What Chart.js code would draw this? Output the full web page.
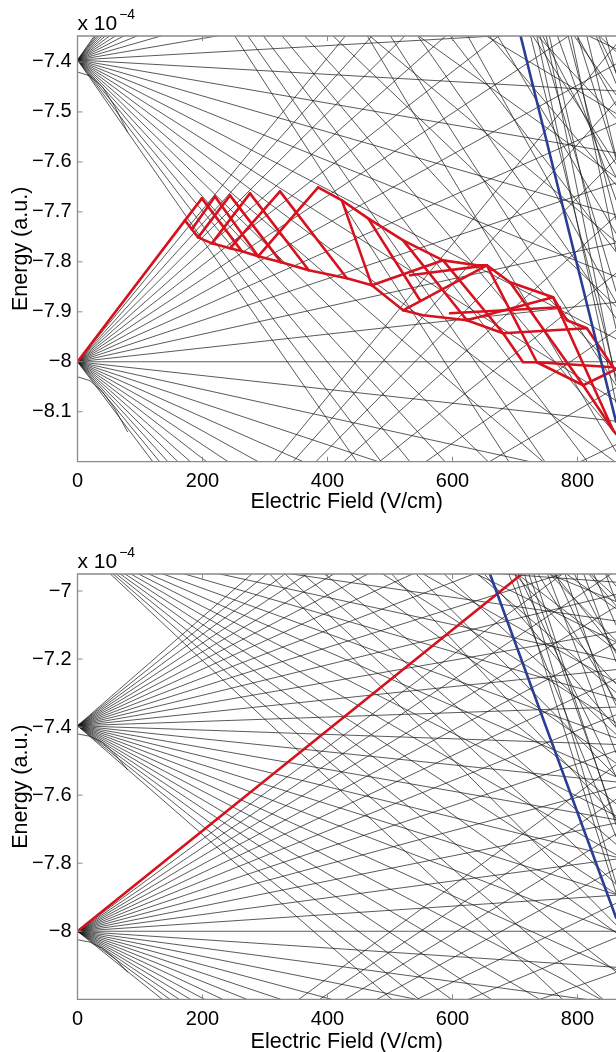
<!DOCTYPE html>
<html><head><meta charset="utf-8">
<script src="https://cdn.jsdelivr.net/npm/chart.js@4/dist/chart.umd.min.js"></script>
<style>
html,body{margin:0;padding:0;background:#fff;overflow:hidden;width:616px;height:1052px}
canvas{position:absolute;left:0}
#c1{top:0}
#c2{top:520px}
</style></head><body>
<canvas id="c1" width="616" height="520"></canvas>
<canvas id="c2" width="616" height="532"></canvas>
<script>
// ---------- axes ----------
const xTicks = [0, 200, 400, 600, 800];
const xMax = 861.6;
const topYTicks = [-7.4, -7.5, -7.6, -7.7, -7.8, -7.9, -8, -8.1];
const topYMin = -8.2, topYMax = -7.348;
const botYTicks = [-7, -7.2, -7.4, -7.6, -7.8, -8];
const botYMin = -8.2, botYMax = -6.95;

// ---------- top panel: Stark fans (energy at F=0, energies at right edge) ----------
const topN24Zero = -8.681;
const topN24Ends = [-7.365, -7.479, -7.594, -7.708, -7.823, -7.937, -8.052, -8.166];
const topN25Zero = -8.0;
const topN25Ends = [-6.689, -6.808, -6.927, -7.046, -7.166, -7.285, -7.404, -7.523, -7.642, -7.762, -7.881, -8.0,
  -8.119, -8.238, -8.358, -8.477, -8.596, -8.715, -8.834, -8.954, -9.073, -9.192, -9.311, -9.430];
const topN26Zero = -7.396;
const topN26Ends = [-5.846, -5.970, -6.094, -6.218, -6.342, -6.466, -6.590, -6.714, -6.838, -6.962, -7.086, -7.210, -7.334,
  -7.458, -7.582, -7.706, -7.830, -7.954, -8.078, -8.202, -8.326, -8.450, -8.574, -8.698, -8.822, -8.946];
const topN27Zero = -6.859;
const topN27Ends = [-7.374, -7.503, -7.631, -7.760, -7.889, -8.018, -8.146, -8.275, -8.404, -8.533];
const topN28Zero = -6.378;
const topN28Ends = [-7.379, -7.513, -7.646, -7.780, -7.913, -8.047, -8.180];
const topN29Zero = -5.945;
const topN29Ends = [-7.466, -7.604, -7.743, -7.881];
const topN30Zero = -5.556;
const topN30Ends = [-7.487, -7.630];
const topN31Zero = -5.203;
const topN31Ends = [-7.420];
// steep states entering through the top edge: field where they enter, energy at right edge
const topSteepStart = [725, 740, 755, 768, 785, 800, 815, 830, 845, 735, 750, 790];
const topSteepEnds = [-8.031, -7.859, -7.934, -7.676, -7.716, -7.594, -7.590, -7.443, -7.423, -8.082, -8.040, -7.778];
// low-l states (quadratic shift)
const topLowL1 = [[0, -7.42], [20, -7.428], [40, -7.45], [60, -7.49], [80, -7.54]];
const topLowL2 = [[0, -8.03], [20, -8.038], [40, -8.06], [60, -8.095], [80, -8.14]];
// blue state
const topBlue = [[709, -7.348], [861.6, -8.12]];
// red network (diabatic paths)
const topRedPaths = [
  [[0, -8.0], [172, -7.717]],
  // rising branches
  [[172, -7.717], [199, -7.673]],
  [[183, -7.735], [220, -7.669]],
  [[193, -7.751], [244, -7.667]],
  [[215, -7.763], [276, -7.663]],
  [[244, -7.773], [324, -7.659]],
  [[289, -7.789], [385, -7.651]],
  // falling branches
  [[199, -7.673], [263, -7.779]],
  [[220, -7.669], [289, -7.789]],
  [[244, -7.667], [326, -7.801]],
  [[276, -7.663], [370, -7.817]],
  [[324, -7.659], [431, -7.833]],
  // lower edge
  [[172, -7.717], [193, -7.751], [215, -7.763], [244, -7.773], [263, -7.779], [289, -7.789], [326, -7.801], [370, -7.817],
   [431, -7.833], [471, -7.847], [521, -7.897], [553, -7.907], [623, -7.917], [681, -7.943], [713, -8.001], [735, -8.001],
   [809, -8.047], [857, -8.137], [862, -8.145]],
  // upper edge
  [[385, -7.651], [423, -7.677], [465, -7.713], [521, -7.757], [585, -7.797], [639, -7.807], [655, -7.807], [692, -7.841],
   [761, -7.871], [783, -7.917], [815, -7.933], [857, -8.011], [862, -8.015]],
  [[423, -7.677], [471, -7.847]],
  [[465, -7.713], [548, -7.877]],
  [[521, -7.757], [623, -7.917]],
  [[585, -7.797], [681, -7.943]],
  [[655, -7.807], [735, -8.001]],
  [[692, -7.841], [809, -8.047]],
  [[761, -7.871], [857, -8.137]],
  [[471, -7.847], [585, -7.797]],
  [[521, -7.897], [655, -7.807]],
  [[623, -7.917], [761, -7.871]],
  [[681, -7.943], [815, -7.933]],
  [[735, -8.001], [857, -8.011]],
  [[809, -8.047], [862, -8.015]],
  [[532, -7.827], [655, -7.807]],
  [[596, -7.903], [772, -7.891]]
];

// ---------- bottom panel ----------
const botN24Zero = -8.681;
const botN24Ends = [-7.511, -7.612, -7.714, -7.816, -7.918, -8.019, -8.121];
const botN25Zero = -8.0;
const botN25Ends = [-6.834, -6.940, -7.046, -7.152, -7.258, -7.364, -7.470, -7.576, -7.682, -7.788, -7.894, -8.0,
  -8.106, -8.212, -8.318, -8.424, -8.530, -8.636, -8.742, -8.848, -8.954, -9.060, -9.166, -9.272];
const botN26Zero = -7.396;
const botN26Ends = [-6.018, -6.128, -6.238, -6.349, -6.459, -6.569, -6.679, -6.790, -6.900, -7.010, -7.120, -7.231, -7.341,
  -7.451, -7.561, -7.672, -7.782, -7.892, -8.002, -8.113, -8.223, -8.333, -8.443, -8.554, -8.664, -8.774];
const botN27Zero = -6.859;
const botN27Ends = [-6.974, -7.088, -7.203, -7.317, -7.432, -7.546, -7.661, -7.775, -7.890, -8.004, -8.119, -8.233, -8.348];
const botN28Zero = -6.378;
const botN28Ends = [-7.031, -7.150, -7.269, -7.387, -7.506, -7.625, -7.744, -7.862, -7.981];
const botN29Zero = -5.945;
const botN29Ends = [-7.052, -7.175, -7.298, -7.421, -7.544, -7.667];
const botN30Zero = -5.556;
const botN30Ends = [-7.019, -7.146, -7.273, -7.401];
const botN31Zero = -5.203;
const botN31Ends = [-7.043, -7.175];
const botN32Zero = -4.883;
const botN32Ends = [-6.986];
const botSteepStart = [690, 705, 722, 737, 752, 765, 780, 795, 810, 826, 845, 700, 715, 730];
const botSteepEnds = [-7.722, -7.545, -7.676, -7.324, -7.476, -7.336, -7.399, -7.183, -7.208, -7.100, -7.030, -7.887, -7.859, -7.687];
const botLowL1 = [[0, -7.42], [20, -7.427], [40, -7.445], [60, -7.48], [80, -7.525]];
const botLowL2 = [[0, -8.025], [20, -8.032], [40, -8.05], [60, -8.08], [80, -8.12]];
const botRed = [[0, -8.0], [711, -6.95]];
const botBlue = [[660, -6.95], [861.6, -7.96]];

// ---------- styling ----------
const BLACK = 'rgba(25,25,25,0.9)';
const RED = '#d7121f';
const BLUE = '#2b3d94';
const FONT = '"Liberation Sans", Arial, Helvetica, sans-serif';

function seg(points, color, width, order) {
  return {data: points.map(p => ({x: p[0], y: p[1]})), showLine: true, borderColor: color,
    backgroundColor: color, borderWidth: width, pointRadius: 0, pointHoverRadius: 0, fill: false,
    tension: 0, order: order, borderJoinStyle: 'round', borderCapStyle: 'round'};
}
function fan(e0, ends) { return ends.map(e => seg([[0, e0], [xMax, e]], BLACK, 0.8, 3)); }
function steep(yTop, starts, ends) { return starts.map((f, i) => seg([[f, yTop], [xMax, ends[i]]], BLACK, 0.8, 3)); }
function fmt(v) { return (v < 0 ? '\u2212' : '') + String(Math.abs(v)); }

const framePlugin = {
  id: 'frame',
  afterDraw(chart) {
    const {ctx, chartArea: a, scales: {x, y}} = chart;
    ctx.save();
    ctx.strokeStyle = '#8a8a8a';
    ctx.lineWidth = 1.3;
    ctx.beginPath();
    ctx.moveTo(a.right + 5, a.top); ctx.lineTo(a.left, a.top);
    ctx.lineTo(a.left, a.bottom); ctx.lineTo(a.right + 5, a.bottom);
    ctx.stroke();
    ctx.lineWidth = 1;
    ctx.beginPath();
    x.ticks.forEach(t => {
      const px = x.getPixelForValue(t.value);
      ctx.moveTo(px, a.bottom); ctx.lineTo(px, a.bottom - 5);
      ctx.moveTo(px, a.top); ctx.lineTo(px, a.top + 5);
    });
    y.ticks.forEach(t => {
      const py = y.getPixelForValue(t.value);
      ctx.moveTo(a.left, py); ctx.lineTo(a.left + 5, py);
    });
    ctx.stroke();
    ctx.fillStyle = '#000';
    ctx.textBaseline = 'alphabetic';
    ctx.textAlign = 'left';
    ctx.font = '21px ' + FONT;
    ctx.fillText('x 10', a.left, a.top - 6);
    const w = ctx.measureText('x 10').width;
    ctx.font = '14px ' + FONT;
    ctx.fillText('\u22124', a.left + w + 2, a.top - 17);
    ctx.restore();
  }
};

function makeChart(id, datasets, yMin, yMax, yTicks, padTop, xAxisH, titlePadBottom) {
  return new Chart(document.getElementById(id), {
    type: 'scatter',
    data: {datasets: datasets},
    options: {
      responsive: false, animation: false, devicePixelRatio: 1, events: [],
      layout: {padding: {top: padTop, left: 0, right: 0, bottom: 0}},
      plugins: {legend: {display: false}, tooltip: {enabled: false}},
      scales: {
        x: {
          type: 'linear', min: 0, max: xMax,
          afterBuildTicks: s => { s.ticks = xTicks.map(v => ({value: v})); },
          afterFit: s => { s.height = xAxisH; },
          grid: {display: false, drawTicks: false}, border: {display: false},
          ticks: {font: {family: FONT, size: 20}, color: '#000', padding: 8, maxRotation: 0, autoSkip: false, callback: v => fmt(v)},
          title: {display: true, text: 'Electric Field (V/cm)', color: '#000', font: {family: FONT, size: 21.5}, padding: {top: 0, bottom: titlePadBottom}}
        },
        y: {
          type: 'linear', min: yMin, max: yMax,
          afterBuildTicks: s => { s.ticks = yTicks.map(v => ({value: v})); },
          afterFit: s => { s.width = 77.5; },
          grid: {display: false, drawTicks: false}, border: {display: false},
          ticks: {font: {family: FONT, size: 20}, color: '#000', padding: 6, autoSkip: false, callback: v => fmt(v)},
          title: {display: true, text: 'Energy (a.u.)', color: '#000', font: {family: FONT, size: 21.5}, padding: {top: 8, bottom: 0}}
        }
      }
    },
    plugins: [framePlugin]
  });
}

const topSets = [].concat(
  [seg(topBlue, BLUE, 2.6, 0)],
  topRedPaths.map(p => seg(p, RED, 2.6, 1)),
  fan(topN24Zero, topN24Ends), fan(topN25Zero, topN25Ends), fan(topN26Zero, topN26Ends),
  fan(topN27Zero, topN27Ends), fan(topN28Zero, topN28Ends), fan(topN29Zero, topN29Ends),
  fan(topN30Zero, topN30Ends), fan(topN31Zero, topN31Ends),
  steep(topYMax, topSteepStart, topSteepEnds),
  [seg(topLowL1, BLACK, 0.8, 3), seg(topLowL2, BLACK, 0.8, 3)]
);
const botSets = [].concat(
  [seg(botBlue, BLUE, 2.6, 0), seg(botRed, RED, 2.6, 1)],
  fan(botN24Zero, botN24Ends), fan(botN25Zero, botN25Ends), fan(botN26Zero, botN26Ends),
  fan(botN27Zero, botN27Ends), fan(botN28Zero, botN28Ends), fan(botN29Zero, botN29Ends),
  fan(botN30Zero, botN30Ends), fan(botN31Zero, botN31Ends), fan(botN32Zero, botN32Ends),
  steep(botYMax, botSteepStart, botSteepEnds),
  [seg(botLowL1, BLACK, 0.8, 3), seg(botLowL2, BLACK, 0.8, 3)]
);

makeChart('c1', topSets, topYMin, topYMax, topYTicks, 36, 58.3, 5);
makeChart('c2', botSets, botYMin, botYMax, botYTicks, 54, 52.7, -3);
</script>
</body></html>
